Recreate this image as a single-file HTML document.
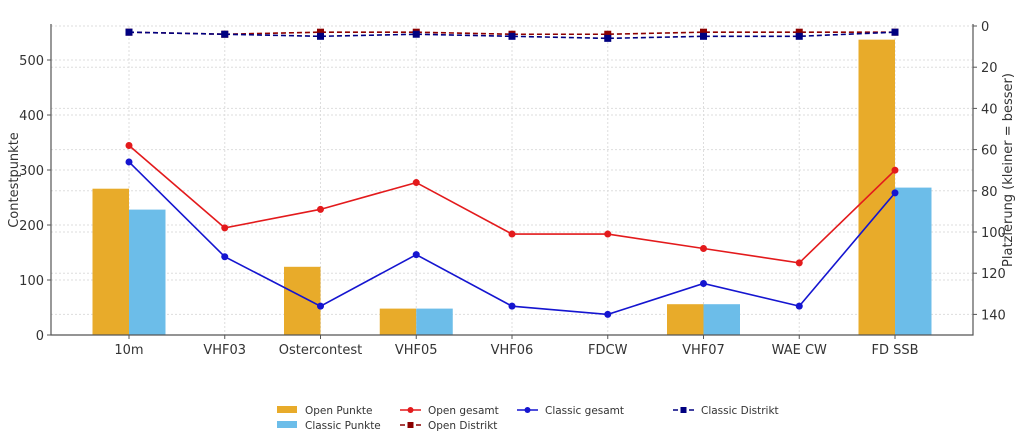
<!DOCTYPE html>
<html><head><meta charset="utf-8"><style>
body{margin:0;background:#fff;font-family:"Liberation Sans","DejaVu Sans",sans-serif}
svg text{font-family:"DejaVu Sans","Liberation Sans",sans-serif;fill:#333}
</style></head><body>
<svg id="c" width="1024" height="442" xmlns="http://www.w3.org/2000/svg"></svg>
<script>
const categories=["10m","VHF03","Ostercontest","VHF05","VHF06","FDCW","VHF07","WAE CW","FD SSB"];
const openPunkte=[266,0,124,48,0,0,56,0,537];
const classicPunkte=[228,0,0,48,0,0,56,0,268];
const openGesamt=[58,98,89,76,101,101,108,115,70];
const classicGesamt=[66,112,136,111,136,140,125,136,81];
const openDistrikt=[3,4,3,3,4,4,3,3,3];
const classicDistrikt=[3,4,5,4,5,6,5,5,3];
const leftTicks=[0,100,200,300,400,500];
const rightTicks=[0,20,40,60,80,100,120,140];

const svg=document.getElementById('c');
const NS='http://www.w3.org/2000/svg';
const L=51,R=973,B=335,T=26;
const xc=i=>129+i*95.75;
const yl=v=>B-v*0.55;
const yr=v=>T+v*(B-T)/150;
function mk(tag,at,par){const e=document.createElementNS(NS,tag);for(const k in at)e.setAttribute(k,at[k]);(par||svg).appendChild(e);return e;}

// grid
leftTicks.forEach(v=>{const g=mk('line',{x1:L,x2:R,y1:yl(v),y2:yl(v),stroke:'#ddd','stroke-dasharray':'2,2'});

});
rightTicks.forEach(v=>{const g=mk('line',{x1:L,x2:R,y1:yr(v),y2:yr(v),stroke:'#ddd','stroke-dasharray':'2,2'});

});
categories.forEach((c,i)=>{const g=mk('line',{x1:xc(i),x2:xc(i),y1:T,y2:B,stroke:'#ddd','stroke-dasharray':'2,2'});

});

// bars
const bw=36.5;
categories.forEach((c,i)=>{
 if(openPunkte[i]>0){const r=mk('rect',{x:xc(i)-bw,y:yl(openPunkte[i]),width:bw,height:B-yl(openPunkte[i]),fill:'#e8ab2a'});
 
 }
 if(classicPunkte[i]>0){const r=mk('rect',{x:xc(i),y:yl(classicPunkte[i]),width:bw,height:B-yl(classicPunkte[i]),fill:'#6cbde9'});
 
 }
});

// axes
const ax=mk('path',{d:`M${L},${T-2}V${B}H${R}V${T-2}`,fill:'none',stroke:'#555','stroke-width':1.2});


leftTicks.forEach(v=>{mk('line',{x1:L-4,x2:L,y1:yl(v),y2:yl(v),stroke:'#555'});
const t=mk('text',{x:L-7,y:yl(v)+5,'text-anchor':'end','font-size':13});t.textContent=v;

});
rightTicks.forEach(v=>{mk('line',{x1:R,x2:R+4,y1:yr(v),y2:yr(v),stroke:'#555'});
const t=mk('text',{x:R+8,y:yr(v)+5,'font-size':13});t.textContent=v;

});
categories.forEach((c,i)=>{mk('line',{x1:xc(i),x2:xc(i),y1:B,y2:B+4,stroke:'#555'});
const t=mk('text',{x:xc(i),y:B+19,'text-anchor':'middle','font-size':13});t.textContent=c;

});
let yt=mk('text',{x:18,y:180,'text-anchor':'middle','font-size':13,transform:'rotate(-90 18 180)'});yt.textContent='Contestpunkte';


yt=mk('text',{x:1012,y:170,'text-anchor':'middle','font-size':13,transform:'rotate(-90 1012 170)'});yt.textContent='Platzierung (kleiner = besser)';



// lines
function series(vals,color,dash,sq,name){
 const p=mk('polyline',{points:vals.map((v,i)=>xc(i)+','+yr(v)).join(' '),fill:'none',stroke:color,'stroke-width':1.6,'stroke-dasharray':dash||''});
 
 
 vals.forEach((v,i)=>{let m;
  if(sq)m=mk('rect',{x:xc(i)-3.5,y:yr(v)-3.5,width:7,height:7,fill:color});
  else m=mk('circle',{cx:xc(i),cy:yr(v),r:3.5,fill:color});
  
  });
}
series(openGesamt,'#e31a1c','',false,'open-gesamt');
series(classicGesamt,'#1515d0','',false,'classic-gesamt');
series(openDistrikt,'#8b0000','5,3',true,'open-distrikt');
series(classicDistrikt,'#000080','5,3',true,'classic-distrikt');

// legend
function leg(x,y,type,color,label,name){
 const g=mk('g',{});
 
 
 if(type==='bar')mk('rect',{x:x,y:y-4,width:20,height:7,fill:color},g);
 else{mk('line',{x1:x,x2:x+21,y1:y,y2:y,stroke:color,'stroke-width':1.6,'stroke-dasharray':type==='dash'?'5,3':''},g);
  if(type==='dash')mk('rect',{x:x+7.5,y:y-3,width:6,height:6,fill:color},g);
  else mk('circle',{cx:x+10.5,cy:y,r:3,fill:color},g);}
 const t=mk('text',{x:x+28,y:y+4,'font-size':10.5},g);t.textContent=label;
}
leg(277,410,'bar','#e8ab2a','Open Punkte','legend-open-punkte');
leg(277,425,'bar','#6cbde9','Classic Punkte','legend-classic-punkte');
leg(400,410,'line','#e31a1c','Open gesamt','legend-open-gesamt');
leg(400,425,'dash','#8b0000','Open Distrikt','legend-open-distrikt');
leg(517,410,'line','#1515d0','Classic gesamt','legend-classic-gesamt');
leg(673,410,'dash','#000080','Classic Distrikt','legend-classic-distrikt');
</script>
</body></html>
